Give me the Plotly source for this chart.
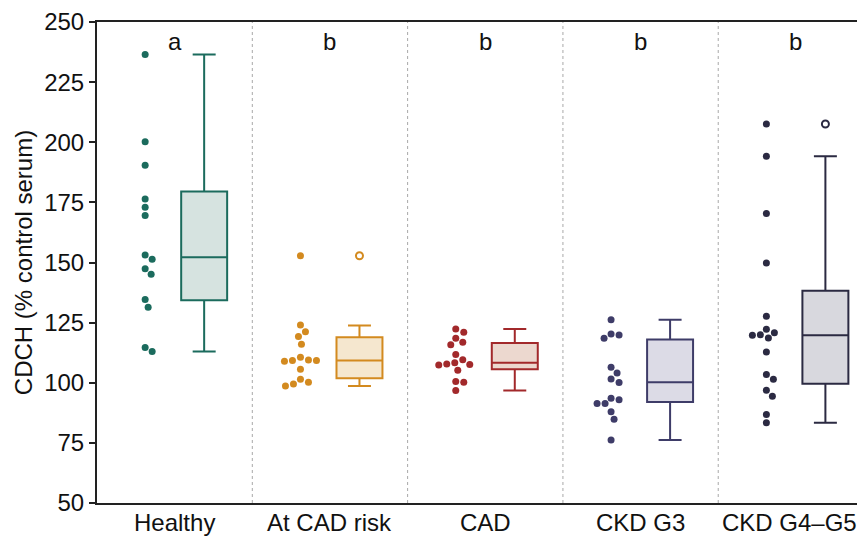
import plotly.graph_objects as go

# ---------------- data ----------------
groups = ["Healthy", "At CAD risk", "CAD", "CKD G3", "CKD G4\u2013G5"]
letters = ["a", "b", "b", "b", "b"]

healthy = [236.5, 200.2, 190.4, 176.4, 173.0, 169.5, 153.1, 151.3, 147.4, 145.1, 134.6, 131.4, 114.7, 113.0]
at_cad_risk = [152.8, 124.0, 121.2, 119.2, 116.0, 110.6, 109.2, 109.2, 109.5, 108.9, 105.6, 101.5, 100.2, 99.5, 98.6]
cad = [122.3, 121.0, 118.5, 116.8, 115.8, 111.7, 109.6, 108.3, 107.4, 107.6, 107.8, 105.2, 100.2, 100.5, 96.8]
ckd_g3 = [126.2, 120.3, 119.9, 118.5, 106.4, 104.1, 101.6, 100.1, 93.6, 92.9, 91.4, 91.4, 87.9, 84.8, 76.2]
ckd_g45 = [207.6, 194.2, 170.4, 149.8, 127.6, 122.2, 118.6, 120.8, 119.8, 120.0, 112.8, 103.4, 101.5, 96.9, 94.4, 86.8, 83.4]
values = [healthy, at_cad_risk, cad, ckd_g3, ckd_g45]

# box statistics
q1 = [134.3, 101.9, 105.6, 92.0, 99.6]
median = [152.2, 109.2, 108.3, 100.2, 119.8]
q3 = [179.5, 118.9, 116.5, 118.0, 138.3]
lower_whisker = [113.0, 98.6, 96.8, 76.2, 83.4]
upper_whisker = [236.5, 123.8, 122.3, 126.2, 194.2]
outliers = [[], [152.8], [], [], [207.6]]

yticks = [50, 75, 100, 125, 150, 175, 200, 225, 250]

line_colors = ["#1b6b5d", "#d38a1f", "#a2292b", "#3e3c68", "#2b2a42"]
fill_colors = ["#d6e3e0", "#f5e7cf", "#ecd8cf", "#dcdbe6", "#d8d8de"]

# ---------------- layout geometry ----------------
# page body has an 8px default margin; compensate so the plot lands where the reference has it
BODY = 8
W, H = 865 - BODY, 537 - BODY
ML, MR, MT, MB = 97 - BODY, 0, 20 - BODY, 537 - 503
x_range = [-0.5, 4.445]
y_range = [50, 250]
px_x = (W - ML - MR) / (x_range[1] - x_range[0])
px_y = (H - MT - MB) / (y_range[1] - y_range[0])

pts_off = -0.19
box_off = 0.19
box_w = 0.296
FS = 24


def swarm(vals, dia=8.0, step=1.0):
    """Simple beeswarm: returns x offsets in pixels."""
    order = sorted(range(len(vals)), key=lambda i: -vals[i])
    placed = []
    offs = [0.0] * len(vals)
    for i in order:
        yp = vals[i] * px_y
        k = 0
        while True:
            cands = [0.0] if k == 0 else [k * step, -k * step]
            ok = None
            for c in cands:
                if all((c - xo) ** 2 + (yp - yo) ** 2 >= dia ** 2 for xo, yo in placed):
                    ok = c
                    break
            if ok is not None:
                offs[i] = ok
                placed.append((ok, yp))
                break
            k += 1
    return offs


fig = go.Figure()

for gi, (name, vals) in enumerate(zip(groups, values)):
    offs = swarm(vals)
    xs = [gi + pts_off + o / px_x for o in offs]
    fig.add_trace(go.Scatter(
        x=xs, y=vals, mode="markers",
        marker=dict(size=7, color=line_colors[gi], line=dict(width=0)),
        showlegend=False, hoverinfo="y"))
    fig.add_trace(go.Box(
        x=[gi + box_off], q1=[q1[gi]], median=[median[gi]], q3=[q3[gi]],
        lowerfence=[lower_whisker[gi]], upperfence=[upper_whisker[gi]],
        width=box_w, whiskerwidth=0.5, boxpoints=False,
        line=dict(color=line_colors[gi], width=2),
        fillcolor=fill_colors[gi], showlegend=False))
    if outliers[gi]:
        fig.add_trace(go.Scatter(
            x=[gi + box_off] * len(outliers[gi]), y=outliers[gi], mode="markers",
            marker=dict(size=7, color="white", symbol="circle",
                        line=dict(color=line_colors[gi], width=2)),
            showlegend=False, hoverinfo="y"))

# dotted separators
for k in range(1, len(groups)):
    fig.add_shape(type="line", x0=k - 0.5, x1=k - 0.5, y0=50, y1=250,
                  xref="x", yref="y",
                  line=dict(color="#a8a8a8", width=1, dash="dot"), layer="below")

# significance letters
for gi, t in enumerate(letters):
    fig.add_annotation(x=gi, y=241.8, text=t, showarrow=False,
                       font=dict(size=FS, color="#111111"), yanchor="middle")

# category labels (last one nudged left so it stays inside the figure)
for gi, g in enumerate(groups):
    fig.add_annotation(x=gi, y=0, xref="x", yref="paper", text=g, showarrow=False,
                       yanchor="top", yshift=-4, xshift=(-6 if gi == len(groups) - 1 else 0),
                       font=dict(size=FS, color="#111111"))

fig.update_layout(
    width=W, height=H,
    margin=dict(l=ML, r=MR, t=MT, b=MB, pad=0),
    plot_bgcolor="white", paper_bgcolor="white",
    font=dict(family="Liberation Sans, Arial, sans-serif", size=FS, color="#111111"),
    xaxis=dict(range=x_range, showticklabels=False,
               showline=True, linecolor="#222222", linewidth=2,
               mirror=True, ticks="", showgrid=False, zeroline=False),
    yaxis=dict(range=y_range, tickmode="array", tickvals=yticks,
               ticktext=[str(v) for v in yticks], showline=True,
               linecolor="#222222", linewidth=2, ticks="outside", ticklen=6,
               tickwidth=2, tickcolor="#222222", showgrid=False, zeroline=False,
               ticklabeloverflow="allow",
               title=dict(text="CDCH (% control serum)", font=dict(size=FS), standoff=5),
               tickfont=dict(size=FS)),
)

fig.write_html("out.html")
